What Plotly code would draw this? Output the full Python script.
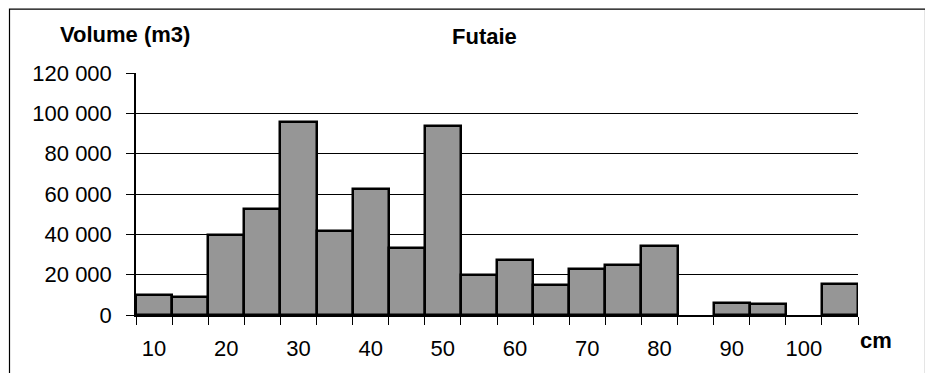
import plotly.graph_objects as go

# diameter classes (cm) and standing volume (m3)
diametres = [10, 15, 20, 25, 30, 35, 40, 45, 50, 55, 60, 65, 70, 75, 80, 85, 90, 95, 100, 105]
volumes = [10000, 8700, 39700, 52400, 95900, 41500, 62300, 33400, 93800, 19700,
           27200, 15100, 22900, 24700, 34100, 0, 5900, 5600, 0, 15500]

x_ticks = [10, 20, 30, 40, 50, 60, 70, 80, 90, 100]
x_labels = ["10", "20", "30", "40", "50", "60", "70", "80", "90", "100"]
y_ticks = [0, 20000, 40000, 60000, 80000, 100000, 120000]
y_labels = ["0", "20 000", "40 000", "60 000", "80 000", "100 000", "120 000"]

FONT = "Liberation Sans, Arial, sans-serif"

# the page body has an 8px margin, so the figure is a bit smaller than the window
OFF = 8
W, H = 925, 365
ml, mr, mt, mb = 128, 75, 65, 56
pw, ph = W - ml - mr, H - mt - mb

def px(xpage):
    return (xpage - OFF - ml) / pw

def py(ypage):
    return (H - mb - (ypage - OFF)) / ph

fig = go.Figure(go.Bar(
    x=diametres,
    y=volumes,
    width=5,
    marker=dict(color="#969696",
                line=dict(color="black", width=[0 if v == 0 else 2.5 for v in volumes])),
))

fig.update_layout(
    width=W, height=H,
    margin=dict(l=ml, r=mr, t=mt, b=mb),
    paper_bgcolor="white",
    plot_bgcolor="white",
    showlegend=False,
    bargap=0,
    font=dict(family=FONT, size=22, color="black"),
    xaxis=dict(
        range=[7.5, 107.5],
        tickvals=x_ticks,
        ticktext=x_labels,
        ticks="",
        ticklabelstandoff=13,
        showgrid=False,
        zeroline=False,
        showline=True,
        linecolor="black",
        linewidth=1.5,
        layer="above traces",
        minor=dict(ticks="outside", tick0=7.5, dtick=5, ticklen=8, tickcolor="black", tickwidth=1, showgrid=False),
    ),
    yaxis=dict(
        range=[0, 120000],
        tickvals=y_ticks,
        ticktext=y_labels,
        ticks="outside",
        ticklen=8,
        tickcolor="black",
        ticklabelstandoff=10,
        showgrid=True,
        gridcolor="black",
        gridwidth=1,
        zeroline=False,
        showline=True,
        linecolor="black",
        linewidth=1.5,
    ),
    shapes=[dict(type="rect", xref="paper", yref="paper",
                 x0=px(9.5), x1=px(925.5), y0=py(8.6), y1=py(420),
                 line=dict(color="black", width=1.2), layer="below")],
    annotations=[
        dict(text="<b>Volume (m3)</b>", xref="paper", yref="paper", x=px(124.5), y=py(34),
             showarrow=False, font=dict(size=22), xanchor="center", yanchor="middle"),
        dict(text="<b>Futaie</b>", xref="paper", yref="paper", x=px(484), y=py(36),
             showarrow=False, font=dict(size=22), xanchor="center", yanchor="middle"),
        dict(text="<b>cm</b>", xref="paper", yref="paper", x=px(876), y=py(343),
             showarrow=False, font=dict(size=22), xanchor="center", yanchor="middle"),
    ],
)

fig.write_html("out.html")
